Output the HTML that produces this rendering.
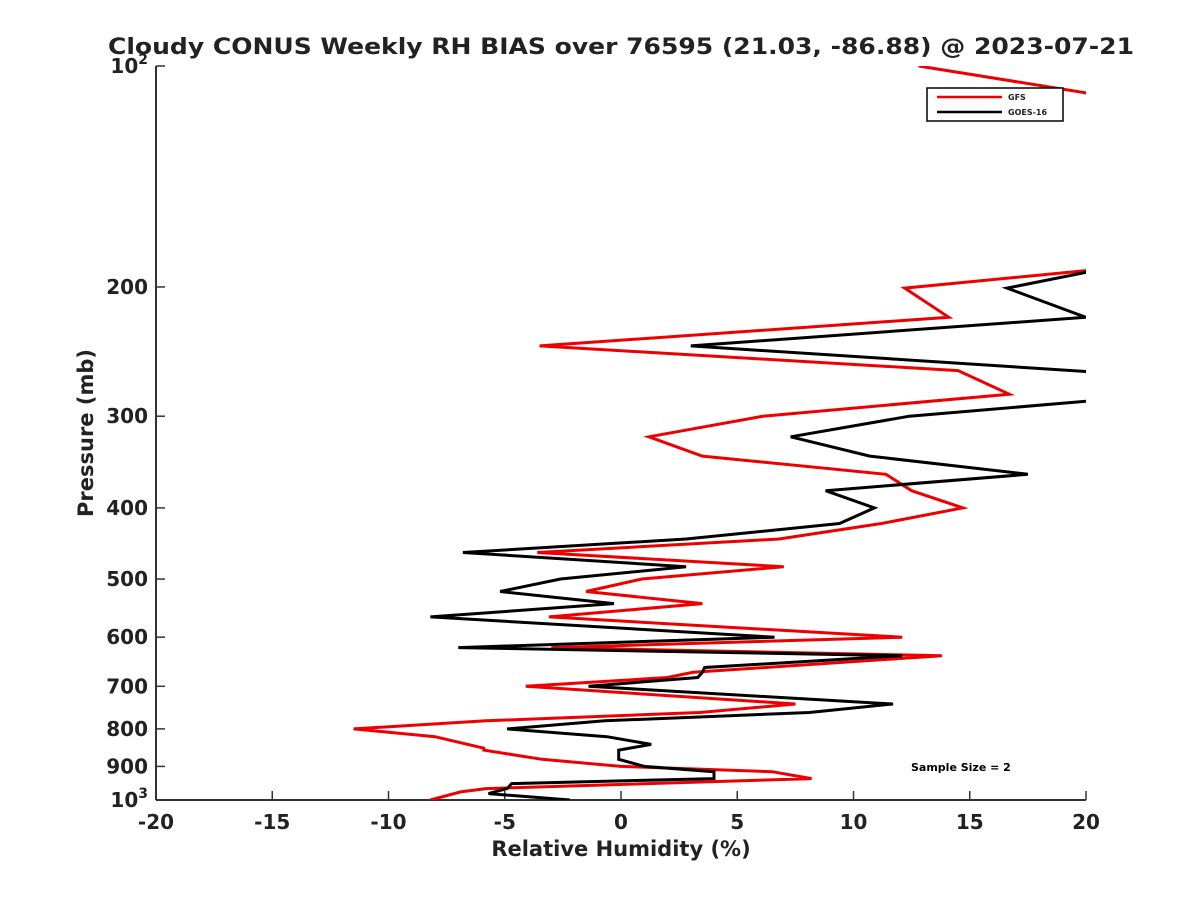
<!DOCTYPE html>
<html><head><meta charset="utf-8"><style>
body{margin:0;background:#fff;}
svg text{font-family:"DejaVu Sans","Liberation Sans",sans-serif;font-weight:bold;fill:#222;}
</style></head><body>
<svg id="chart" width="1200" height="900" xmlns="http://www.w3.org/2000/svg">
<rect width="1200" height="900" fill="#fff"/>
<defs><clipPath id="plotclip"><rect x="156" y="66" width="930" height="734"/></clipPath></defs>
<text x="621" y="54" text-anchor="middle" font-size="22" textLength="1026" lengthAdjust="spacingAndGlyphs">Cloudy CONUS Weekly RH BIAS over 76595 (21.03, -86.88) @ 2023-07-21</text>
<g id="axes"></g>
<g id="series" clip-path="url(#plotclip)"></g>
<text x="621" y="856" text-anchor="middle" font-size="21">Relative Humidity (%)</text>
<text transform="translate(93,433) rotate(-90)" text-anchor="middle" font-size="21">Pressure (mb)</text>
<g>
<rect x="927" y="88" width="136" height="33" fill="#fff" stroke="#000" stroke-width="1.5"/>
<line x1="937" y1="97" x2="1002" y2="97" stroke="#e00" stroke-width="2.5"/>
<text x="1008" y="100" font-size="8">GFS</text>
<line x1="937" y1="112" x2="1002" y2="112" stroke="#000" stroke-width="2.5"/>
<text x="1008" y="115" font-size="8">GOES-16</text>
</g>
<text x="911" y="771" font-size="11" style="fill:#000">Sample Size = 2</text>
</svg>
<script>
const xTicks=[-20,-15,-10,-5,0,5,10,15,20];
const yTicks=[100,200,300,400,500,600,700,800,900,1000];
const gfsP=[100,108.8,150,190,200.7,220,240.6,260,280,300,320,340,360,379,400,420,441,460,481,500,520,540,563,600,620,636,670,681,700,740,760,780,800,820,850,855,880,900,915,935,965,975,1000];
const gfsRH=[12.8,20,25,20,12.2,14.1,-3.5,14.5,16.7,6.1,1.2,3.5,11.4,12.5,14.7,11.2,6.8,-3.6,7.0,0.9,-1.5,3.5,-3.1,12.1,-3.0,13.8,3.1,2.0,-4.1,7.5,3.4,-5.8,-11.5,-8.0,-5.9,-5.9,-3.4,0,6.5,8.2,-5.8,-6.9,-8.2];
const goesP=[185,191,200.7,220,240.6,262,272,284.5,300,320,340,360,379,400,420,441,460,481,500,520,540,563,600,620,636,660,670,681,700,740,760,780,800,820,840,855,880,900,915,935,950,965,980,1000];
const goesRH=[25,20,16.6,20,3.0,21,23,21,12.4,7.3,10.7,17.5,8.8,10.9,9.4,2.8,-6.8,2.8,-2.6,-5.2,-0.3,-8.2,6.6,-7.0,12.1,3.6,3.5,3.3,-1.4,11.7,8.1,-0.7,-4.9,-0.6,1.3,-0.1,-0.1,1.0,4.0,4.0,-4.7,-4.9,-5.7,-2.2];
const X0=156,X1=1086,Y0=66,Y1=800;
const xs=v=>X0+(v+20)/40*(X1-X0);
const ys=p=>Y0+Math.log10(p/100)*(Y1-Y0);
const NS='http://www.w3.org/2000/svg';
function mk(t,a,parent){const e=document.createElementNS(NS,t);for(const k in a)e.setAttribute(k,a[k]);parent.appendChild(e);return e;}
const axes=document.getElementById('axes');
const xl=mk('line',{x1:X0,y1:Y1,x2:X1,y2:Y1,stroke:'#333','stroke-width':2},axes);


const yl=mk('line',{x1:X0,y1:Y0,x2:X0,y2:Y1,stroke:'#333','stroke-width':2},axes);


xTicks.forEach(v=>{
  const x=xs(v);
  mk('line',{x1:x,y1:Y1,x2:x,y2:Y1-9,stroke:'#333','stroke-width':1.5},axes);
  const t=mk('text',{x:x,y:829,'text-anchor':'middle','font-size':20},axes);
  t.textContent=String(v);
  
  
});
yTicks.forEach(p=>{
  const y=ys(p);
  mk('line',{x1:X0,y1:y,x2:X0+9,y2:y,stroke:'#333','stroke-width':1.5},axes);
  const t=mk('text',{x:148,y:y+7,'text-anchor':'end','font-size':20},axes);
  if(p===100||p===1000){
    t.textContent='10';
    const s=mk('tspan',{dy:-9,'font-size':14},t);s.textContent=p===100?'2':'3';
  } else t.textContent=String(p);
  
  
});
const ser=document.getElementById('series');
function line(P,R,color,name){
  const pts=P.map((p,i)=>xs(R[i]).toFixed(1)+','+ys(p).toFixed(1)).join(' ');
  const e=mk('polyline',{points:pts,fill:'none',stroke:color,'stroke-width':3,'stroke-linejoin':'miter'},ser);
  
  
}
line(gfsP,gfsRH,'#e00','gfs-line');
line(goesP,goesRH,'#000','goes16-line');
</script>
</body></html>
